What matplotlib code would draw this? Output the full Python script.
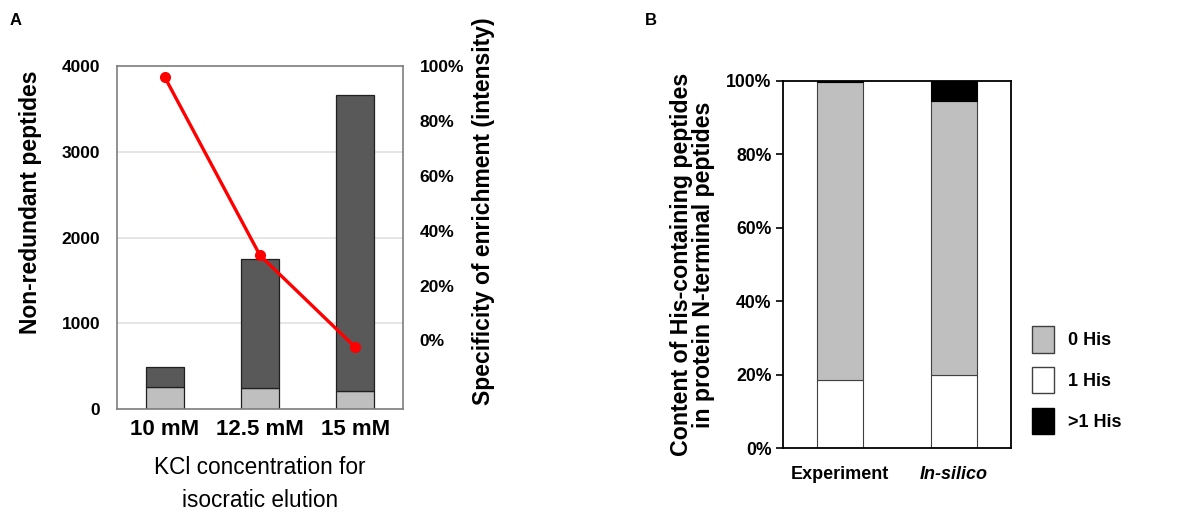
import matplotlib
matplotlib.use("Agg")
import matplotlib.pyplot as plt
import numpy as np
from matplotlib.patches import Patch
from matplotlib.ticker import PercentFormatter

plt.rcParams["font.family"] = ["Liberation Sans", "DejaVu Sans"]

# ── Panel A data: peptides per KCl step and enrichment specificity ──
kcl_labels = ["10 mM", "12.5 mM", "15 mM"]
nterm_peptides = [260, 248, 210]          # light grey segment
other_peptides = [233, 1498, 3452]        # dark grey segment on top
specificity = [0.96, 0.31, -0.025]        # red line, right axis

# ── Panel B data: His content of protein N-terminal peptides ───────
sources = ["Experiment", "In-silico"]
his_one = [0.186, 0.199]
his_zero = [0.810, 0.747]
his_multi = [0.004, 0.054]

LIGHT = "#bfbfbf"
DARK = "#595959"

fig = plt.figure(figsize=(11.99, 5.15), dpi=100)

# ── Panel A ────────────────────────────────────────────────────────
ax = fig.add_axes([0.0976, 0.2058, 0.2385, 0.666])
x = np.arange(len(kcl_labels))
ax.bar(x, nterm_peptides, width=0.4, color=LIGHT, edgecolor="#202020",
       linewidth=0.9, zorder=2)
ax.bar(x, other_peptides, width=0.4, bottom=nterm_peptides, color=DARK,
       edgecolor="#202020", linewidth=0.9, zorder=2)
ax.set_xlim(-0.5, 2.5)
ax.set_ylim(0, 4000)
ax.set_yticks([0, 1000, 2000, 3000, 4000])
ax.yaxis.grid(True, color="#e0e0e0", linewidth=1.2, zorder=0)
ax.set_axisbelow(True)
ax.tick_params(axis="both", length=0)
ax.tick_params(axis="y", pad=12, labelsize=12.5)
ax.tick_params(axis="x", pad=7, labelsize=16)
ax.set_xticks(x)
ax.set_xticklabels(kcl_labels, fontweight="bold")
for lab in ax.get_yticklabels():
    lab.set_fontweight("bold")
for sp in ax.spines.values():
    sp.set_color("#7f7f7f")
    sp.set_linewidth(1.2)
ax.set_ylabel("Non-redundant peptides", fontsize=16.5, fontweight="bold")
ax.yaxis.set_label_coords(-0.262, 0.603)
ax.set_xlabel("KCl concentration for\nisocratic elution", fontsize=16.3,
              labelpad=12, linespacing=1.55)

ax2 = ax.twinx()
ax2.plot(x, specificity, color="#ff0000", linewidth=2.4, marker="o",
         markersize=7, zorder=5)
ax2.set_ylim(-0.25, 1.0)
ax2.set_yticks([0, 0.2, 0.4, 0.6, 0.8, 1.0])
ax2.yaxis.set_major_formatter(PercentFormatter(1.0, decimals=0))
ax2.tick_params(axis="y", length=0, pad=12, labelsize=12.5)
for lab in ax2.get_yticklabels():
    lab.set_fontweight("bold")
for sp in ax2.spines.values():
    sp.set_visible(False)
ax2.set_ylabel("Specificity of enrichment (intensity)", fontsize=16.5,
               fontweight="bold")
ax2.yaxis.set_label_coords(1.241, 0.577)

fig.text(0.008, 0.96, "A", fontsize=12, fontweight="bold", va="center")

# ── Panel B ────────────────────────────────────────────────────────
bx = fig.add_axes([0.6528, 0.1295, 0.1904, 0.7138])
xb = np.arange(len(sources))
one = np.array(his_one)
zero = np.array(his_zero)
multi = np.array(his_multi)
bx.bar(xb, one, width=0.4, color="white", edgecolor="#404040", linewidth=0.8)
bx.bar(xb, zero, width=0.4, bottom=one, color=LIGHT, edgecolor="#404040",
       linewidth=0.8)
bx.bar(xb, multi, width=0.4, bottom=one + zero, color="black",
       edgecolor="black", linewidth=0.8)
bx.set_xlim(-0.5, 1.5)
bx.set_ylim(0, 1.0)
bx.set_yticks([0, 0.2, 0.4, 0.6, 0.8, 1.0])
bx.yaxis.set_major_formatter(PercentFormatter(1.0, decimals=0))
bx.tick_params(axis="y", length=5, width=1.2, pad=3, labelsize=12.7)
bx.tick_params(axis="x", length=0, pad=13, labelsize=13)
bx.set_xticks(xb)
bx.set_xticklabels(sources, fontweight="bold")
bx.get_xticklabels()[1].set_fontstyle("italic")
for lab in bx.get_yticklabels():
    lab.set_fontweight("bold")
for sp in bx.spines.values():
    sp.set_color("black")
    sp.set_linewidth(1.3)
bx.set_ylabel("Content of His-containing peptides\nin protein N-terminal peptides",
              fontsize=16.7, fontweight="bold", labelpad=8, linespacing=0.95)

handles = [Patch(facecolor=LIGHT, edgecolor="#404040", label="0 His"),
           Patch(facecolor="white", edgecolor="#404040", label="1 His"),
           Patch(facecolor="black", edgecolor="black", label=">1 His")]
leg = bx.legend(handles=handles, loc="lower left", bbox_to_anchor=(1.021, -0.006),
                frameon=False, handlelength=1.2, handleheight=1.9,
                handletextpad=0.8, labelspacing=0.78,
                prop={"size": 13, "weight": "bold"})

fig.text(0.538, 0.96, "B", fontsize=12, fontweight="bold", va="center")

fig.savefig("out.png", dpi=100)
